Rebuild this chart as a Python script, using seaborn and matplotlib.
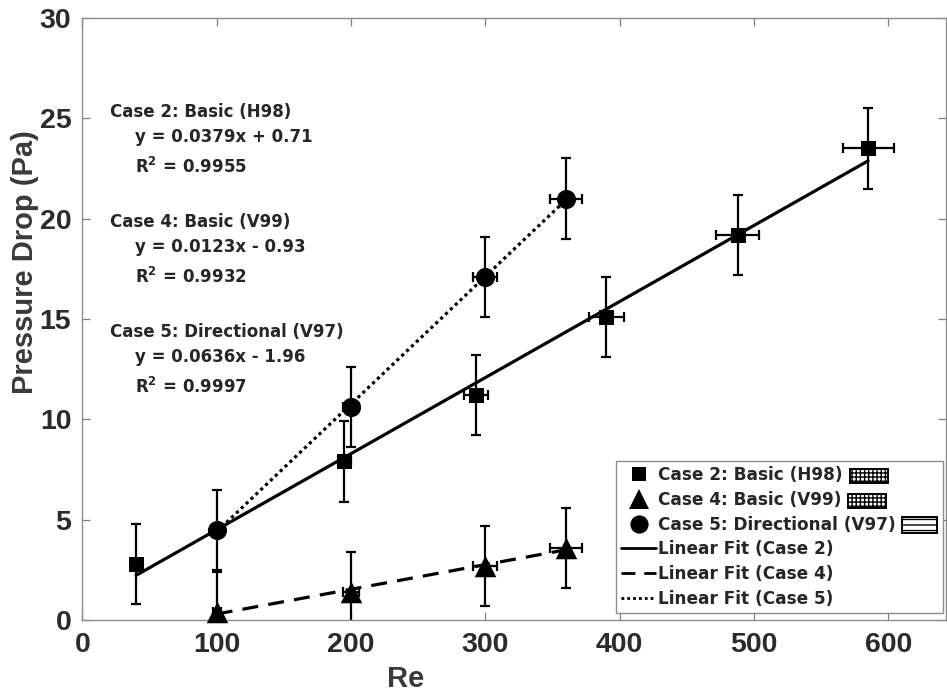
import numpy as np
import pandas as pd
import matplotlib
matplotlib.use("Agg")
import matplotlib.pyplot as plt
from matplotlib.lines import Line2D
from matplotlib.patches import Rectangle
import seaborn as sns

# Data
case2_re = [40, 195, 293, 390, 488, 585]
case2_dp = [2.8, 7.9, 11.2, 15.1, 19.2, 23.5]
case2_xerr = [0, 5, 9, 13, 16, 19]
case2_yerr = [2, 2, 2, 2, 2, 2]

case4_re = [100, 200, 300, 360]
case4_dp = [0.4, 1.4, 2.7, 3.6]
case4_xerr = [3, 6, 9, 12]
case4_yerr = [2, 2, 2, 2]

case5_re = [100, 200, 300, 360]
case5_dp = [4.5, 10.6, 17.1, 21.0]
case5_xerr = [3, 6, 9, 12]
case5_yerr = [2, 2, 2, 2]

fit_slope = [0.0379, 0.0123, 0.0636]
fit_intercept = [0.71, -0.93, -1.96]
fit_r2 = ["0.9955", "0.9932", "0.9997"]
case_names = ["Case 2: Basic (H98)", "Case 4: Basic (V99)", "Case 5: Directional (V97)"]
fit_names = ["Linear Fit (Case 2)", "Linear Fit (Case 4)", "Linear Fit (Case 5)"]

sns.set_theme(style="ticks")
plt.rcParams['font.family'] = ['Liberation Sans', 'DejaVu Sans']

fig = plt.figure(figsize=(9.47, 6.97), dpi=100)
ax = fig.add_axes([82.4 / 947, 77 / 697, 863.6 / 947, 602 / 697])

cases = [
    (case2_re, case2_dp, case2_xerr, case2_yerr, 's', 10.8),
    (case4_re, case4_dp, case4_xerr, case4_yerr, '^', 15.5),
    (case5_re, case5_dp, case5_xerr, case5_yerr, 'o', 13.8),
]
styles = ['-', (0, (5, 3.2)), (0, (1, 1.1))]

# fit lines from the equations, spanning each case's Re range
for i, (re, dp, xe, ye, mk, ms) in enumerate(cases):
    xs = np.array([min(re), max(re)])
    fit_df = pd.DataFrame({'Re': xs, 'dP': fit_slope[i] * xs + fit_intercept[i]})
    sns.lineplot(data=fit_df, x='Re', y='dP', ax=ax, color='black', lw=2.3,
                 linestyle=styles[i], zorder=3)

for i, (re, dp, xe, ye, mk, ms) in enumerate(cases):
    ax.errorbar(re, dp, xerr=xe, yerr=ye, fmt='none', ecolor='black',
                elinewidth=1.6, capsize=3.5, capthick=1.6, zorder=2)
    pts = pd.DataFrame({'Re': re, 'dP': dp})
    sns.scatterplot(data=pts, x='Re', y='dP', ax=ax, marker=mk, s=ms ** 2,
                    color='black', edgecolor='black', linewidth=0, zorder=4,
                    clip_on=False)

ax.set_xlim(0, 643)
ax.set_ylim(0, 30)
ax.set_xticks(range(0, 601, 100))
ax.set_yticks(range(0, 31, 5))
ax.tick_params(direction='in', length=6, width=0.9, top=True, right=True,
               labelsize=20.5, colors='#7f7f7f', labelcolor='#2b2b2b')
ax.tick_params(axis='x', pad=9)
ax.tick_params(axis='y', pad=8)
for lab in ax.get_xticklabels() + ax.get_yticklabels():
    lab.set_fontweight('bold')
for sp in ax.spines.values():
    sp.set_visible(True)
    sp.set_color('#8c8c8c')
    sp.set_linewidth(1.0)

ax.set_xlabel('Re', fontsize=21, fontweight='bold', color='#3a3a3a', va='center')
ax.set_ylabel('Pressure Drop (Pa)', fontsize=21, fontweight='bold', color='#3a3a3a',
              va='center')
ax.xaxis.set_label_coords(0.374, -0.098)
ax.yaxis.set_label_coords(-0.066, 0.595)

# fit equations
ann_font = ['DejaVu Sans']
heads = [25.32, 19.84, 14.36]
for i in range(3):
    y0 = heads[i]
    sign = '+' if fit_intercept[i] >= 0 else '-'
    ax.text(20.5, y0, case_names[i], fontsize=12.0, fontweight='bold',
            family=ann_font, va='center', ha='left')
    ax.text(39.2, y0 - 1.25, f"y = {fit_slope[i]:.4f}x {sign} {abs(fit_intercept[i]):.2f}",
            fontsize=12.0, fontweight='bold', family=ann_font, va='center', ha='left')
    ax.text(39.2, y0 - 2.75, r"R$^\mathbf{2}$ = " + fit_r2[i], fontsize=12.0,
            fontweight='bold', family=ann_font, va='center', ha='left')

# legend (trailing spaces reserve room for the error-bar icons)
pad_names = [n + "\u2003\u2003\u2002" for n in case_names]
handles = [Line2D([], [], ls='none', marker=c[4], markersize=c[5] * 0.95,
                  color='black', markeredgewidth=0) for c in cases]
handles += [Line2D([], [], color='black', lw=2.0, linestyle=styles[i]) for i in range(3)]
leg = ax.legend(handles, pad_names + fit_names, loc='lower right',
                bbox_to_anchor=(0.9965, 0.0116), borderaxespad=0, fancybox=False,
                frameon=True, edgecolor='#8c8c8c', framealpha=1,
                prop={'family': ['DejaVu Sans'], 'size': 12.2, 'weight': 'bold'},
                handlelength=2.05, handletextpad=0.1, labelspacing=0.4,
                borderpad=0.3)
leg.get_frame().set_linewidth(1.0)

fig.canvas.draw()
renderer = fig.canvas.get_renderer()
inv = fig.transFigure.inverted()
icon_spec = [('++++', 38, 14, 7), ('++++', 38, 14, 7), ('---', 35, 16, 6)]
for t, name, (hatch, w, h, gap) in zip(leg.get_texts()[:3], case_names, icon_spec):
    bb = t.get_window_extent(renderer)
    tw, th, td = renderer.get_text_width_height_descent(name, t.get_fontproperties(), ismath=False)
    x0 = bb.x0 + tw + gap
    yc = bb.y0 + td + (th - td) * 0.45
    (fx0, fy0) = inv.transform((x0, yc - h / 2))
    (fx1, fy1) = inv.transform((x0 + w, yc + h / 2))
    fig.add_artist(Rectangle((fx0, fy0), fx1 - fx0, fy1 - fy0, transform=fig.transFigure,
                             facecolor='white', edgecolor='black', lw=1.4, hatch=hatch))

fig.savefig('out.png', dpi=100)
